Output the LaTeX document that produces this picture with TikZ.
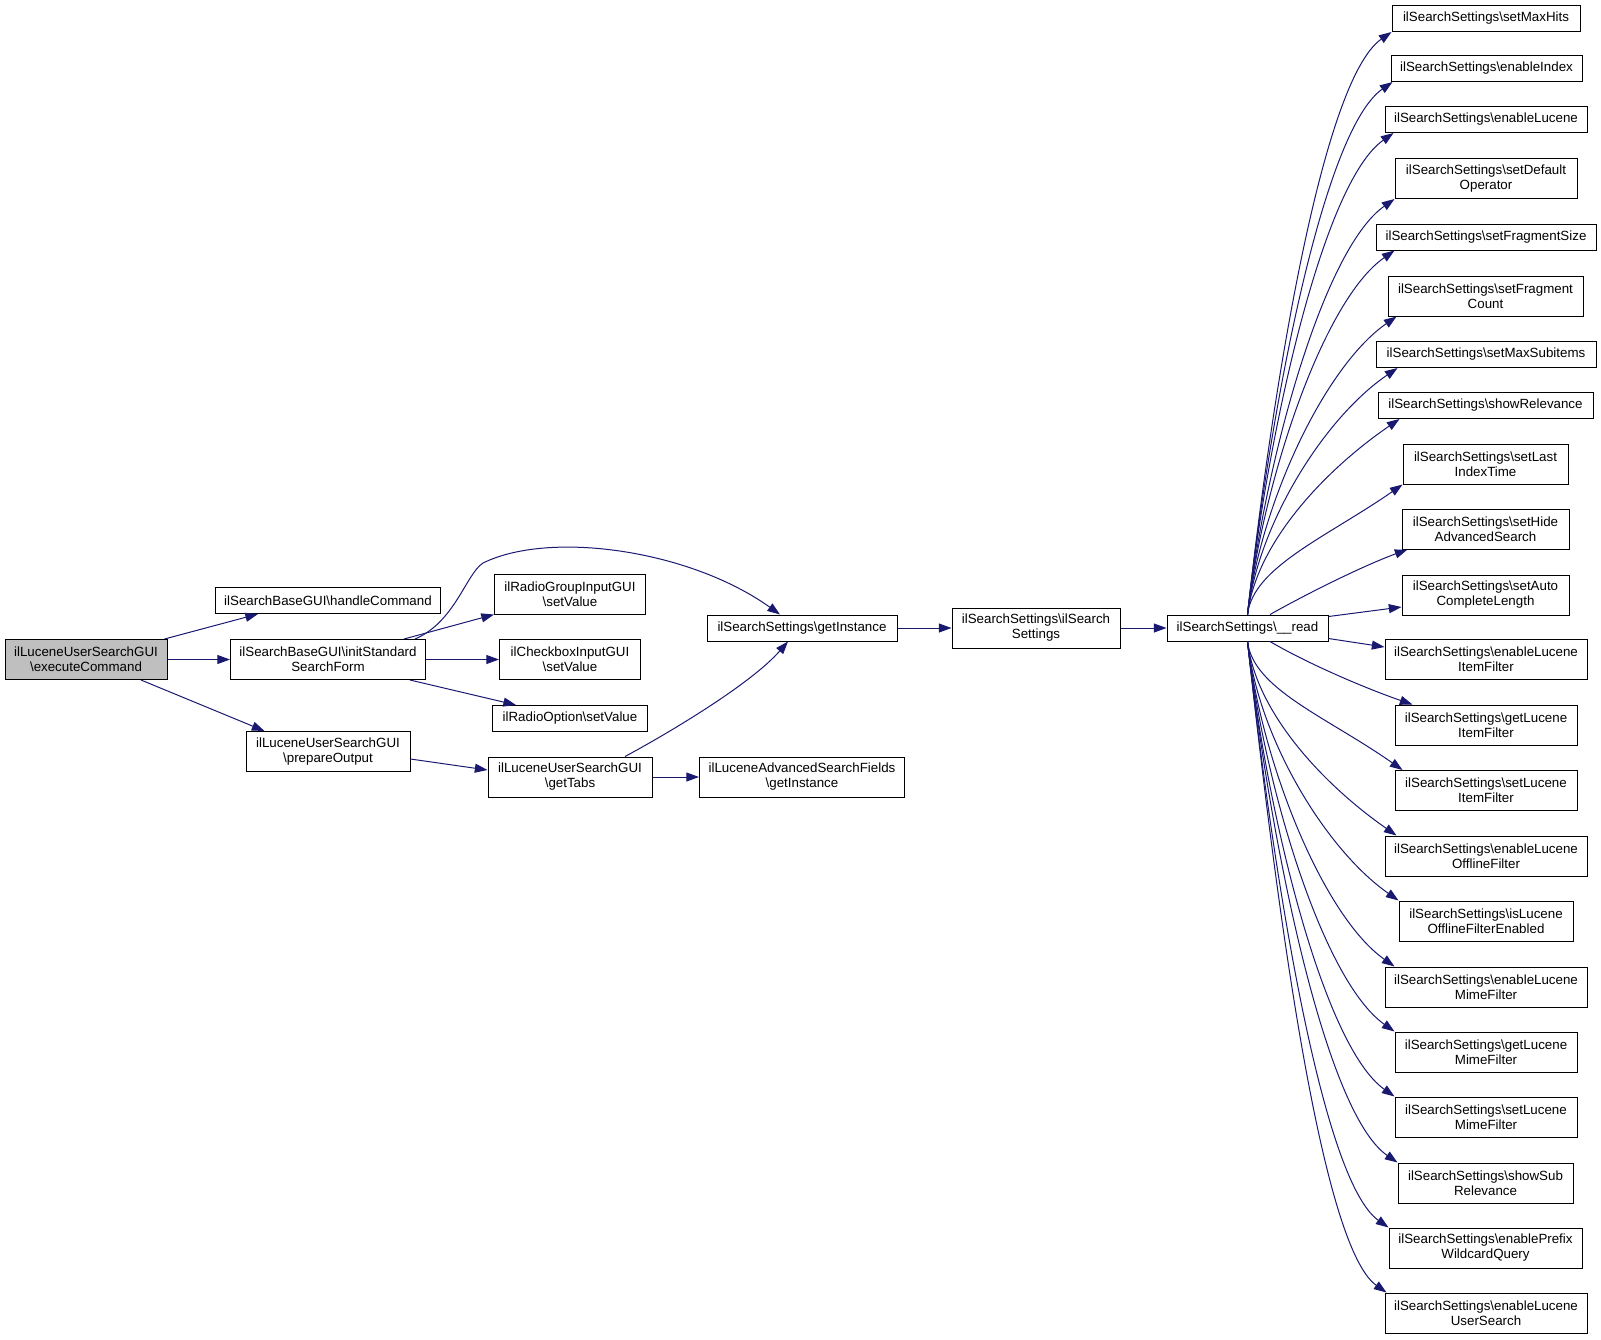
\documentclass[tikz,border=0pt]{standalone}
\usepackage{fontspec}
\setmainfont{Liberation Sans}
\usetikzlibrary{arrows.meta}
\definecolor{midnight}{HTML}{191970}
\definecolor{rootgray}{HTML}{BFBFBF}
\newcommand{\bksl}{\textbackslash}
\def\pxu{0.75pt}
\tikzset{
	fnbox/.style={
		draw=black, fill=white, line width=0.75pt, inner sep=0pt, align=center,
		minimum height=26*\pxu,
		font={\fontsize{10}{11.25}\selectfont}
	},
	fnboxII/.style={fnbox, minimum height=40*\pxu},
	callee/.style={->, draw=midnight, line width=0.75pt},
	>={Triangle[length=9.5pt,width=6.75pt]},
}

\begin{document}
\begin{tikzpicture}[
x=\pxu, y=-\pxu
]
\useasboundingbox (0,0) rectangle (1601,1339);
\node [fnboxII, fill=rootgray, minimum width=162*\pxu] (exec) at (86,659.5) {ilLuceneUserSearchGUI\\\bksl executeCommand};
\node [fnbox, minimum width=225*\pxu] (handle) at (328,600.5) {ilSearchBaseGUI\bksl handleCommand};
\node [fnboxII, minimum width=195*\pxu] (initForm) at (328,659.5) {ilSearchBaseGUI\bksl initStandard\\SearchForm};
\node [fnboxII, minimum width=164*\pxu] (prepOut) at (328,751.5) {ilLuceneUserSearchGUI\\\bksl prepareOutput};
\node [fnboxII, minimum width=151*\pxu] (radioGrp) at (570,594) {ilRadioGroupInputGUI\\\bksl setValue};
\node [fnboxII, minimum width=141*\pxu] (checkBox) at (570,659.5) {ilCheckboxInputGUI\\\bksl setValue};
\node [fnbox, minimum width=155*\pxu] (radioOpt) at (570,718.5) {ilRadioOption\bksl setValue};
\node [fnboxII, minimum width=164*\pxu] (getTabs) at (570,777) {ilLuceneUserSearchGUI\\\bksl getTabs};
\node [fnbox, minimum width=190*\pxu] (getInst) at (802,628) {ilSearchSettings\bksl getInstance};
\node [fnboxII, minimum width=205*\pxu] (advFields) at (802,777) {ilLuceneAdvancedSearchFields\\\bksl getInstance};
\node [fnboxII, minimum width=168*\pxu] (ctor) at (1036,628) {ilSearchSettings\bksl ilSearch\\Settings};
\node [fnbox, minimum width=161*\pxu] (readS) at (1247.5,628) {ilSearchSettings\bksl\_\_read};

\node [fnbox, minimum width=188*\pxu] (maxHits) at (1486,18.5) {ilSearchSettings\bksl setMaxHits};
\node [fnbox, minimum width=191*\pxu] (enIndex) at (1486.5,68.5) {ilSearchSettings\bksl enableIndex};
\node [fnbox, minimum width=202*\pxu] (enLucene) at (1486,119.5) {ilSearchSettings\bksl enableLucene};
\node [fnboxII, minimum width=182*\pxu] (defOp) at (1486,178.5) {ilSearchSettings\bksl setDefault\\Operator};
\node [fnbox, minimum width=220*\pxu] (fragSize) at (1486,237) {ilSearchSettings\bksl setFragmentSize};
\node [fnboxII, minimum width=195*\pxu] (fragCount) at (1485.5,296) {ilSearchSettings\bksl setFragment\\Count};
\node [fnbox, minimum width=220*\pxu] (maxSub) at (1486,354.5) {ilSearchSettings\bksl setMaxSubitems};
\node [fnbox, minimum width=215*\pxu] (showRel) at (1485.5,405.5) {ilSearchSettings\bksl showRelevance};
\node [fnboxII, minimum width=165*\pxu] (lastIdx) at (1485.5,464) {ilSearchSettings\bksl setLast\\IndexTime};
\node [fnboxII, minimum width=167*\pxu] (hideAdv) at (1485.5,529) {ilSearchSettings\bksl setHide\\AdvancedSearch};
\node [fnboxII, minimum width=167*\pxu] (autoCL) at (1485.5,595) {ilSearchSettings\bksl setAuto\\CompleteLength};
\node [fnboxII, minimum width=202*\pxu] (enItem) at (1486,659.5) {ilSearchSettings\bksl enableLucene\\ItemFilter};
\node [fnboxII, minimum width=182*\pxu] (getItem) at (1486,725) {ilSearchSettings\bksl getLucene\\ItemFilter};
\node [fnboxII, minimum width=182*\pxu] (setItem) at (1486,790.5) {ilSearchSettings\bksl setLucene\\ItemFilter};
\node [fnboxII, minimum width=202*\pxu] (enOffline) at (1486,856) {ilSearchSettings\bksl enableLucene\\OfflineFilter};
\node [fnboxII, minimum width=174*\pxu] (isOffline) at (1486,921) {ilSearchSettings\bksl isLucene\\OfflineFilterEnabled};
\node [fnboxII, minimum width=202*\pxu] (enMime) at (1486,987) {ilSearchSettings\bksl enableLucene\\MimeFilter};
\node [fnboxII, minimum width=182*\pxu] (getMime) at (1486,1052) {ilSearchSettings\bksl getLucene\\MimeFilter};
\node [fnboxII, minimum width=182*\pxu] (setMime) at (1486,1117) {ilSearchSettings\bksl setLucene\\MimeFilter};
\node [fnboxII, minimum width=175*\pxu] (showSub) at (1485.5,1183) {ilSearchSettings\bksl showSub\\Relevance};
\node [fnboxII, minimum width=193*\pxu] (enPrefix) at (1485.5,1248) {ilSearchSettings\bksl enablePrefix\\WildcardQuery};
\node [fnboxII, minimum width=202*\pxu] (enUser) at (1486,1313) {ilSearchSettings\bksl enableLucene\\UserSearch};

% calls on the left
\draw [callee] ([xshift=-3*\pxu]exec.north east) -- ([xshift=43*\pxu]handle.south west);
\draw [callee] (exec.east) -- (initForm.west);
\draw [callee] ([xshift=55*\pxu]exec.south) -- ([xshift=19*\pxu]prepOut.north west);
\draw [callee] ([xshift=-22*\pxu]initForm.north east) -- (radioGrp.south west);
\draw [callee] (initForm.east) -- (checkBox.west);
\draw [callee] ([xshift=-16*\pxu]initForm.south east) -- ([xshift=24*\pxu]radioOpt.north west);
\draw [callee] ([xshift=-11*\pxu]initForm.north east) .. controls (455,622) and (466,574) .. (483,563)
  .. controls (550,530) and (690,550) .. ([xshift=-22*\pxu]getInst.north);
\draw [callee] ([yshift=-7.5*\pxu]prepOut.east) -- ([yshift=7*\pxu]getTabs.west);
\draw [callee] ([xshift=55*\pxu]getTabs.north) .. controls (665,735) and (750,685) .. ([xshift=-14*\pxu]getInst.south);
\draw [callee] (getTabs.east) -- (advFields.west);
\draw [callee] (getInst.east) -- (ctor.west);
\draw [callee] (ctor.east) -- (readS.west);

% fan out of __read
\draw [callee] (readS.north) .. controls (1271,400) and (1321,81) .. (maxHits.south west);
\draw [callee] (readS.north) .. controls (1269,418) and (1322,131) .. ([xshift=2*\pxu]enIndex.south west);
\draw [callee] (readS.north) .. controls (1267,437) and (1322,183) .. ([xshift=9*\pxu]enLucene.south west);
\draw [callee] (readS.north) .. controls (1265,462) and (1323,249) .. (defOp.south west);
\draw [callee] (readS.north) .. controls (1263,481) and (1323,300) .. ([xshift=19*\pxu]fragSize.south west);
\draw [callee] (readS.north) .. controls (1260,505) and (1324,367) .. ([xshift=9*\pxu]fragCount.south west);
\draw [callee] (readS.north) .. controls (1258,524) and (1324,418) .. ([xshift=22*\pxu]maxSub.south west);
\draw [callee] (readS.north) .. controls (1256,543) and (1325,470) .. ([xshift=22*\pxu]showRel.south west);
\draw [callee] (readS.north) .. controls (1253,567) and (1327,537) .. (lastIdx.south west);
\draw [callee] ([xshift=22.5*\pxu]readS.north) .. controls (1310,592) and (1365,565) .. ([xshift=6*\pxu]hideAdv.south west);
\draw [callee] ([yshift=11.5*\pxu]readS.east) -- ([yshift=-12*\pxu]autoCL.west);
\draw [callee] ([yshift=-10.5*\pxu]readS.east) -- ([yshift=12.5*\pxu]enItem.west);
\draw [callee] ([xshift=22.5*\pxu]readS.south) .. controls (1310,665) and (1370,690) .. ([xshift=18*\pxu]getItem.north west);
\draw [callee] (readS.south) .. controls (1253,689) and (1327,717) .. ([xshift=8*\pxu]setItem.north west);
\draw [callee] (readS.south) .. controls (1256,713) and (1324,785) .. ([xshift=12*\pxu]enOffline.north west);
\draw [callee] (readS.south) .. controls (1258,737) and (1325,849) .. (isOffline.north west);
\draw [callee] (readS.south) .. controls (1261,762) and (1323,916) .. ([xshift=10*\pxu]enMime.north west);
\draw [callee] (readS.south) .. controls (1264,786) and (1323,981) .. (getMime.north west);
\draw [callee] (readS.south) .. controls (1266,810) and (1323,1046) .. (setMime.north west);
\draw [callee] (readS.south) .. controls (1269,834) and (1324,1112) .. (showSub.north west);
\draw [callee] (readS.south) .. controls (1271,858) and (1320,1179) .. (enPrefix.north west);
\draw [callee] (readS.south) .. controls (1274,882) and (1319,1245) .. ([xshift=2*\pxu]enUser.north west);
\end{tikzpicture}
\end{document}
